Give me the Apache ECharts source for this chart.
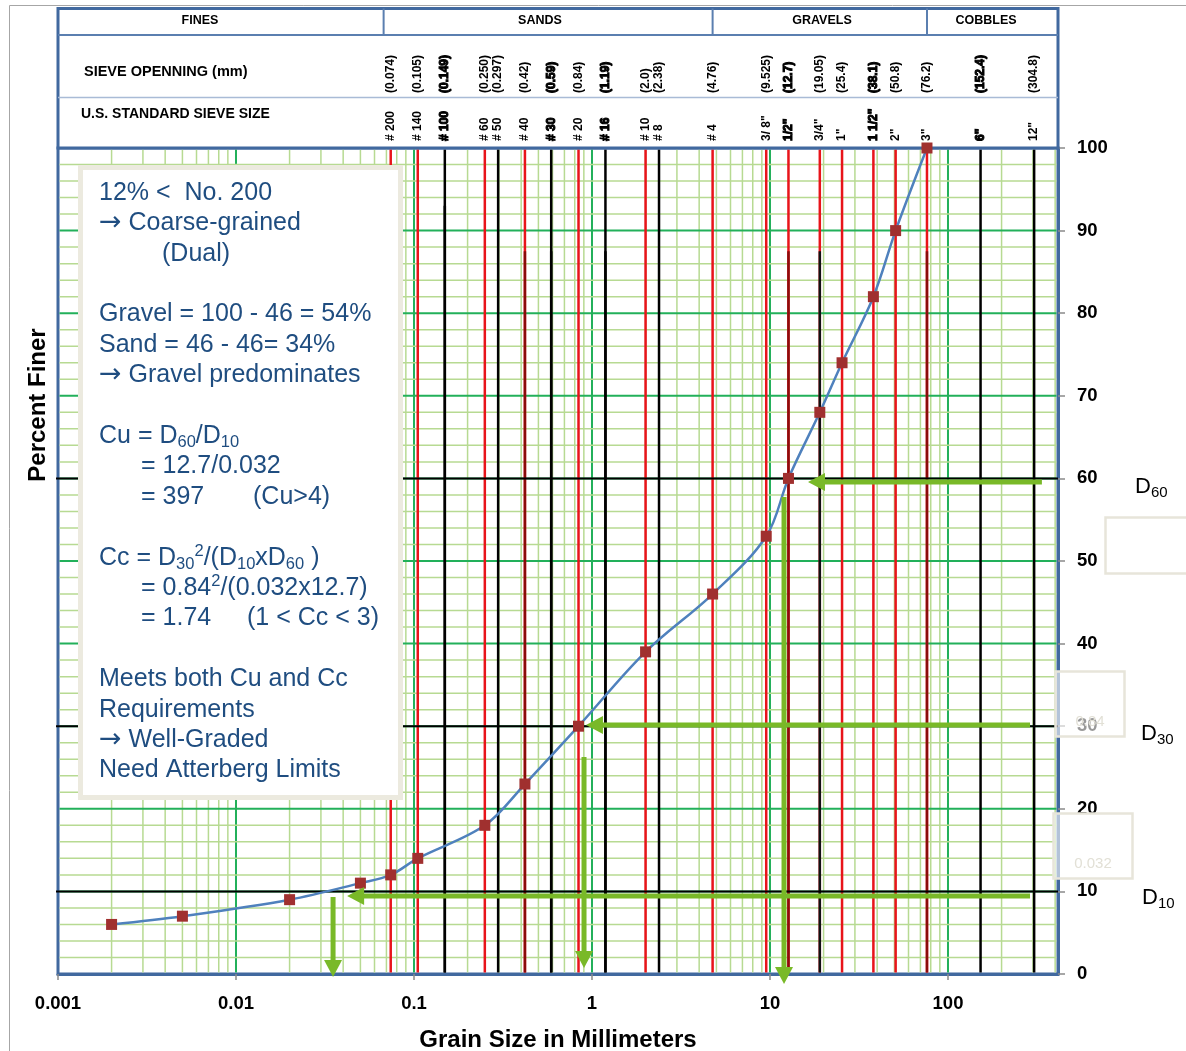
<!DOCTYPE html>
<html><head><meta charset="utf-8">
<script src="https://cdn.jsdelivr.net/npm/echarts@6/dist/echarts.min.js"></script>
<style>html,body{margin:0;padding:0;background:#fff}#c{width:1186px;height:1051px}</style>
</head><body><div id="c"></div>
<script>
// ---------------- data ----------------
const grainSize = [0.002,0.005,0.02,0.05,0.074,0.105,0.25,0.42,0.84,2.0,4.76,9.525,12.7,19.05,25.4,38.1,50.8,76.2];
const percentFiner = [6,7,9,11,12,14,18,23,30,39,46,53,60,68,74,82,90,100];
const sieveOpening = [0.074,0.105,0.149,0.250,0.297,0.42,0.59,0.84,1.19,2.0,2.38,4.76,9.525,12.7,19.05,25.4,38.1,50.8,76.2,152.4,304.8];
const sieveOpeningLabels = ['(0.074)','(0.105)','(0.149)','(0.250)','(0.297)','(0.42)','(0.59)','(0.84)','(1.19)','(2.0)','(2.38)','(4.76)','(9.525)','(12.7)','(19.05)','(25.4)','(38.1)','(50.8)','(76.2)','(152.4)','(304.8)'];
const sieveSizeLabels = ['# 200','# 140','# 100','# 60','# 50','# 40','# 30','# 20','# 16','# 10','# 8','# 4','3/ 8"','1/2"','3/4"','1"','1 1/2"','2"','3"','6"','12"'];
const xTickLabels = ['0.001','0.01','0.1','1','10','100'];
const soilClasses = ['FINES','SANDS','GRAVELS','COBBLES'];
const dPercent = [10,30,60];
const dLabels = ['10','30','60'];
const noteLines = [
  '12% <  No. 200','→ Coarse-grained','(Dual)','',
  'Gravel = 100 - 46 = 54%','Sand = 46 - 46= 34%','→ Gravel predominates','',
  'Cu = D{sub|60}/D{sub|10}','= 12.7/0.032','= 397','',
  'Cc = D{sub|30}{sup|2}/(D{sub|10}xD{sub|60} )','= 0.84{sup|2}/(0.032x12.7)','= 1.74','',
  'Meets both Cu and Cc','Requirements','→ Well-Graded','Need Atterberg Limits'
];
const noteSide = {10:'(Cu>4)',14:'(1 < Cc < 3)'};

// ---------------- styles ----------------
const AXIS_BLUE = '#41699f';
const FONT = "'Liberation Sans', Arial, sans-serif";
const MINOR = '#b7da92', MAJOR = '#22b05a';
const ARROW = '#79b928';
const TEXTBLUE = '#1f4d80';
const blackSieves = new Set([0.149,0.297,0.59,1.19,2.38,152.4,304.8]);
const heavyLabels = new Set([0.149,0.59,1.19,12.7,38.1,152.4]);

const chart = echarts.init(document.getElementById('c'));
chart.setOption({
  animation:false,
  backgroundColor:'#ffffff',
  grid:{left:58,right:128,top:148,bottom:77,show:true,borderColor:AXIS_BLUE,borderWidth:3,backgroundColor:'rgba(0,0,0,0)',outerBoundsMode:'none',containLabel:false},
  xAxis:{type:'log',logBase:10,min:0.001,max:415,
    axisLine:{show:true,onZero:false,lineStyle:{color:AXIS_BLUE,width:3}},
    axisTick:{show:true,length:6,lineStyle:{color:'#8a8a8a',width:1.5}},
    splitLine:{show:false},minorTick:{show:false},
    axisLabel:{margin:20,fontSize:18.5,fontWeight:'bold',color:'#000',fontFamily:FONT,showMaxLabel:false,
      formatter:function(v){const l=Math.log10(v);const r=Math.round(l);if(Math.abs(l-r)>1e-6)return '';return xTickLabels[r+3]||'';}}
  },
  yAxis:{type:'value',position:'right',min:0,max:100,interval:10,
    axisLine:{show:true,lineStyle:{color:AXIS_BLUE,width:3}},
    axisTick:{show:true,length:7,lineStyle:{color:'#8a8a8a',width:1.5}},
    splitLine:{show:false},
    axisLabel:{margin:19,fontSize:18.5,fontWeight:'bold',color:'#000',fontFamily:FONT,align:'left',padding:[3,0,0,0]}
  },
  series:[{type:'line',z:5,data:grainSize.map((g,i)=>[g,percentFiner[i]]),smooth:0.35,
    symbol:'rect',symbolSize:11,itemStyle:{color:'#a0302f'},lineStyle:{color:'#4f81bd',width:2.5}}]
});

const P = (x,y)=>chart.convertToPixel({gridIndex:0},[x,y]);
const g = [];
const L = (x1,y1,x2,y2,stroke,w,z)=>g.push({type:'line',silent:true,z:z,shape:{x1,y1,x2,y2},style:{stroke,lineWidth:w}});
const T = (x,y,text,o,z)=>g.push({type:'text',silent:true,z:z||6,x,y,rotation:o.rot||0,style:Object.assign({text,fontFamily:FONT,fill:'#000'},o.style)});

const pL = P(0.001,0)[0], pR = P(415,0)[0], pT = P(1,100)[1], pB = P(1,0)[1];

// outer frame
g.push({type:'rect',silent:true,z:0,shape:{x:9.5,y:5.5,width:1300,height:1200},style:{fill:'none',stroke:'#a6a6a6',lineWidth:1}});

// vertical grid lines
for(let d=-3; d<=2; d++){
  for(let k=1;k<=9;k++){
    const v=k*Math.pow(10,d);
    if(v<=0.0010001||v>=415) continue;
    const x=P(v,0)[0];
    L(x,pT+1.5,x,pB-1.5,k===1?MAJOR:MINOR,k===1?2:1.5,1);
  }
}
// horizontal grid lines
for(let y=2;y<100;y+=2){
  const py=P(1,y)[1];
  L(pL+1.5,py,pR-1.5,py,y%10===0?MAJOR:MINOR,y%10===0?2:1.5,1);
}
// sieve lines
sieveOpening.forEach(v=>{
  const x=P(v,0)[0];
  L(x,pT+1.5,x,pB-1.5,blackSieves.has(v)?'#000':'#e8141a',2.5,2);
});
// darker lower overlays seen on some sieve lines
[[0.149,93,'#000'],[0.42,87.5,'#8a0a0a'],[0.59,87.5,'#000'],[1.19,87.5,'#000'],[12.7,87.5,'#8b0c0c'],[19.05,87.5,'#111'],[76.2,87.5,'#8b0c0c']].forEach(a=>{
  const p=P(a[0],a[1]);L(p[0],p[1],p[0],pB-1.5,a[2],2.5,2);
});
// black D-lines
dPercent.forEach(y=>{const py=P(1,y)[1];L(pL-2,py,pR,py,'#000',2,3);});

// header
g.push({type:'rect',silent:true,z:3,shape:{x:pL,y:8.5,width:pR-pL,height:pT-8.5},style:{fill:'#fff',stroke:AXIS_BLUE,lineWidth:3}});
L(pL,35,pR,35,'#5b7fb0',2,4);
L(pL,97.5,pR,97.5,'#a9bbd6',1.5,4);
[0.0675,4.76,76.2].forEach(v=>{const x=P(v,0)[0];L(x,8.5,x,35,'#5b7fb0',2,4);});
const classX=[200,540,822,986];
soilClasses.forEach((s,i)=>T(classX[i],21,s,{style:{fontSize:12.5,fontWeight:'bold',align:'center',verticalAlign:'middle'}},5));
T(84,72,'SIEVE OPENNING (mm)',{style:{fontSize:14.5,fontWeight:'bold',align:'left',verticalAlign:'middle'}},5);
T(81,114,'U.S. STANDARD SIEVE SIZE',{style:{fontSize:14,fontWeight:'bold',align:'left',verticalAlign:'middle'}},5);
sieveOpening.forEach((v,i)=>{
  const x=P(v,0)[0];
  const heavy=heavyLabels.has(v);
  const st={fontSize:12,fontWeight:'bold',align:'left',verticalAlign:'middle'};
  if(heavy){st.stroke='#000';st.lineWidth=1;}
  T(x,93,sieveOpeningLabels[i],{rot:Math.PI/2,style:Object.assign({},st)},5);
  T(x,141,sieveSizeLabels[i],{rot:Math.PI/2,style:Object.assign({},st)},5);
});

// note box
g.push({type:'rect',silent:true,z:6,shape:{x:80.5,y:167.5,width:320,height:630},style:{fill:'#fff',stroke:'#eceadf',lineWidth:5}});
const rich={sub:{fontSize:16.5,lineHeight:12,verticalAlign:'bottom',fill:TEXTBLUE,fontFamily:FONT},
            sup:{fontSize:16.5,lineHeight:25,verticalAlign:'top',fill:TEXTBLUE,fontFamily:FONT},
            arr:{fontSize:27,lineHeight:30,verticalAlign:'middle',fill:TEXTBLUE,fontFamily:"'DejaVu Sans', sans-serif"}};
noteLines.forEach((t,i)=>{
  if(!t) return;
  const y=193+30.4*i;
  let x=99;
  if(t==='(Dual)') x=162;
  else if(t.indexOf('= ')===0) x=141;
  T(x,y,t.replace('→','{arr|→}'),{style:{fontSize:25,lineHeight:30,fill:TEXTBLUE,align:'left',verticalAlign:'middle',rich:rich}},7);
  if(noteSide[i]) T(i===10?253:247,y,noteSide[i],{style:{fontSize:25,lineHeight:30,fill:TEXTBLUE,align:'left',verticalAlign:'middle'}},7);
});

// arrows
function arrowH(y,xFrom,xTo){
  const a=P(xFrom,y),b=P(xTo,y);
  L(a[0],a[1],b[0]+14,b[1],ARROW,5,8);
  g.push({type:'polygon',silent:true,z:8,shape:{points:[[b[0],b[1]],[b[0]+17,b[1]-9],[b[0]+17,b[1]+9]]},style:{fill:ARROW}});
}
function arrowV(x,yFrom,yTo){
  const a=P(x,yFrom),b=P(x,yTo);
  L(a[0],a[1],b[0],b[1]-14,ARROW,5,8);
  g.push({type:'polygon',silent:true,z:8,shape:{points:[[b[0],b[1]],[b[0]-9,b[1]-17],[b[0]+9,b[1]-17]]},style:{fill:ARROW}});
}
arrowH(59.55,337,16.35);
arrowH(30.15,289,0.925);
arrowH(9.45,289,0.0421);
arrowV(11.99,57.75,-1.2);
arrowV(0.902,26.27,0.73);
arrowV(0.0351,9.32,-0.36);

// D labels
const dY=[898,734,487], dX=[1142,1141,1135];
dLabels.forEach((s,i)=>T(dX[i],dY[i],'D{s|'+s+'}',{style:{fontSize:22,lineHeight:26,fill:'#000',align:'left',verticalAlign:'middle',
  rich:{s:{fontSize:15,lineHeight:10,verticalAlign:'bottom',fill:'#000',fontFamily:FONT}}}},6));

// faint leftover boxes
[[1105.5,517.5,85,56,''],[1055.5,671.5,69,65,'0.84'],[1053.5,813.5,79,65,'0.032']].forEach(b=>{
  g.push({type:'rect',silent:true,z:9,shape:{x:b[0],y:b[1],width:b[2],height:b[3]},style:{fill:'rgba(255,255,255,0.6)',stroke:'#e7e5da',lineWidth:2.5}});
  if(b[4]) T(b[0]+b[2]/2,b[1]+b[3]-15,b[4],{style:{fontSize:15,fill:'#e2e0d6',align:'center',verticalAlign:'middle'}},10);
});

// axis titles
T(558,1040,'Grain Size in Millimeters',{style:{fontSize:24,fontWeight:'bold',align:'center',verticalAlign:'middle'}},6);
T(38,405,'Percent Finer',{rot:Math.PI/2,style:{fontSize:24,fontWeight:'bold',align:'center',verticalAlign:'middle'}},6);

chart.setOption({graphic:{elements:g}});
</script>
</body></html>
